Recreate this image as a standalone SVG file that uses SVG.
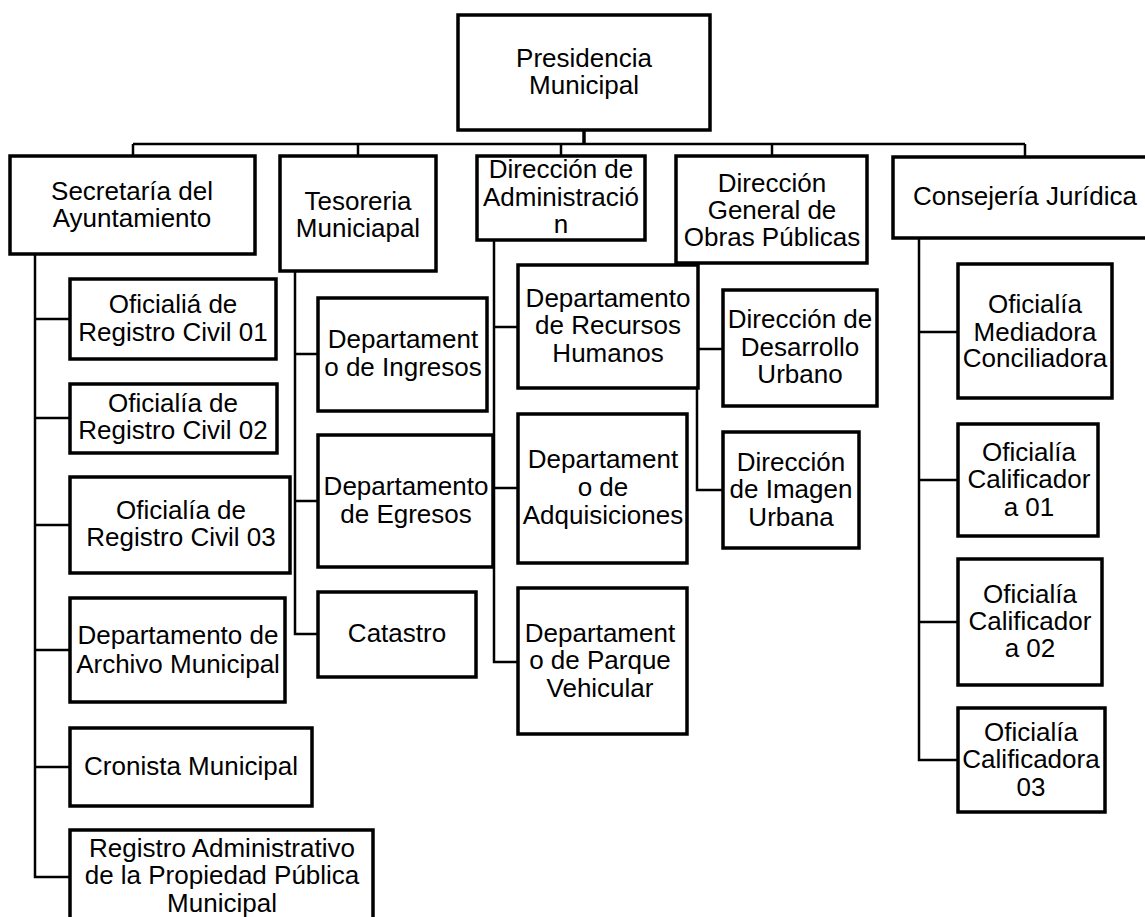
<svg xmlns="http://www.w3.org/2000/svg" width="1145" height="917" viewBox="0 0 1145 917">
  <style>
    .box { fill: #ffffff; stroke: #000000; stroke-width: 3.5; }
    .lbl { font-family: "Liberation Sans", Arial, sans-serif; font-size: 26px; fill: #000000; text-anchor: middle; }
    .wire { fill: none; stroke: #000000; stroke-width: 2.5; }
    .trunk { fill: none; stroke: #000000; stroke-width: 3.5; }
  </style>
  <rect width="1145" height="917" fill="#ffffff"/>

  <!-- connectors -->
  <g id="connectors">
    <line class="trunk" x1="584" y1="130" x2="584" y2="144"/>
    <line class="wire" x1="133" y1="144" x2="1025" y2="144"/>
    <line class="wire" x1="133" y1="144" x2="133" y2="156"/>
    <line class="wire" x1="358" y1="144" x2="358" y2="156"/>
    <line class="wire" x1="561" y1="144" x2="561" y2="156"/>
    <line class="wire" x1="772" y1="144" x2="772" y2="156"/>
    <line class="wire" x1="1025" y1="144" x2="1025" y2="157"/>

    <!-- Secretaría branch -->
    <polyline class="wire" points="35,254 35,877 70,877"/>
    <line class="wire" x1="35" y1="319" x2="70" y2="319"/>
    <line class="wire" x1="35" y1="418" x2="70" y2="418"/>
    <line class="wire" x1="35" y1="525" x2="70" y2="525"/>
    <line class="wire" x1="35" y1="650" x2="70" y2="650"/>
    <line class="wire" x1="35" y1="767" x2="70" y2="767"/>

    <!-- Tesorería branch -->
    <polyline class="wire" points="295,271 295,634 318,634"/>
    <line class="wire" x1="295" y1="354" x2="318" y2="354"/>
    <line class="wire" x1="295" y1="501" x2="318" y2="501"/>

    <!-- Administración branch -->
    <polyline class="wire" points="494,240 494,662 518,662"/>
    <line class="wire" x1="494" y1="327" x2="518" y2="327"/>
    <line class="wire" x1="494" y1="488" x2="518" y2="488"/>

    <!-- Obras Públicas branch -->
    <polyline class="wire" points="697,263 697,490 723,490"/>
    <line class="wire" x1="697" y1="349" x2="723" y2="349"/>

    <!-- Consejería branch -->
    <polyline class="wire" points="919,238 919,760 958,760"/>
    <line class="wire" x1="919" y1="332" x2="958" y2="332"/>
    <line class="wire" x1="919" y1="480" x2="958" y2="480"/>
    <line class="wire" x1="919" y1="622" x2="958" y2="622"/>
  </g>

  <!-- top level -->
  <g id="presidencia">
    <rect class="box" x="458" y="15" width="252" height="115"/>
    <text class="lbl" x="584" y="67">Presidencia</text>
    <text class="lbl" x="584" y="94">Municipal</text>
  </g>

  <!-- second level -->
  <g id="secretaria">
    <rect class="box" x="10" y="156" width="245" height="98"/>
    <text class="lbl" x="132" y="200">Secretaría del</text>
    <text class="lbl" x="132" y="227">Ayuntamiento</text>
  </g>
  <g id="tesoreria">
    <rect class="box" x="280" y="156" width="156" height="115"/>
    <text class="lbl" x="358" y="210">Tesoreria</text>
    <text class="lbl" x="358" y="237">Municiapal</text>
  </g>
  <g id="administracion">
    <rect class="box" x="477" y="156" width="168" height="84"/>
    <text class="lbl" x="561" y="178">Dirección de</text>
    <text class="lbl" x="561" y="206">Administració</text>
    <text class="lbl" x="561" y="233">n</text>
  </g>
  <g id="obras">
    <rect class="box" x="676" y="156" width="191" height="107"/>
    <text class="lbl" x="772" y="192">Dirección</text>
    <text class="lbl" x="772" y="219">General de</text>
    <text class="lbl" x="772" y="246">Obras Públicas</text>
  </g>
  <g id="consejeria">
    <rect class="box" x="893" y="157" width="270" height="81"/>
    <text class="lbl" x="1025" y="205">Consejería Jurídica</text>
  </g>

  <!-- Secretaría units -->
  <g id="registro-civil-01">
    <rect class="box" x="70" y="279" width="206" height="80"/>
    <text class="lbl" x="173" y="313">Oficialiá de</text>
    <text class="lbl" x="173" y="341">Registro Civil 01</text>
  </g>
  <g id="registro-civil-02">
    <rect class="box" x="70" y="384" width="207" height="69"/>
    <text class="lbl" x="173" y="412">Oficialía de</text>
    <text class="lbl" x="173" y="439">Registro Civil 02</text>
  </g>
  <g id="registro-civil-03">
    <rect class="box" x="70" y="477" width="220" height="96"/>
    <text class="lbl" x="181" y="519">Oficialía de</text>
    <text class="lbl" x="181" y="546">Registro Civil 03</text>
  </g>
  <g id="archivo">
    <rect class="box" x="70" y="598" width="215" height="104"/>
    <text class="lbl" x="178" y="644">Departamento de</text>
    <text class="lbl" x="178" y="673">Archivo Municipal</text>
  </g>
  <g id="cronista">
    <rect class="box" x="70" y="728" width="242" height="78"/>
    <text class="lbl" x="191" y="775">Cronista Municipal</text>
  </g>
  <g id="registro-propiedad">
    <rect class="box" x="70" y="830" width="303" height="100"/>
    <text class="lbl" x="222" y="857">Registro Administrativo</text>
    <text class="lbl" x="222" y="884">de la Propiedad Pública</text>
    <text class="lbl" x="222" y="912">Municipal</text>
  </g>

  <!-- Tesorería units -->
  <g id="ingresos">
    <rect class="box" x="318" y="298" width="169" height="113"/>
    <text class="lbl" x="403" y="348">Departament</text>
    <text class="lbl" x="403" y="376">o de Ingresos</text>
  </g>
  <g id="egresos">
    <rect class="box" x="318" y="435" width="175" height="132"/>
    <text class="lbl" x="406" y="495">Departamento</text>
    <text class="lbl" x="406" y="523">de Egresos</text>
  </g>
  <g id="catastro">
    <rect class="box" x="318" y="592" width="158" height="85"/>
    <text class="lbl" x="397" y="642">Catastro</text>
  </g>

  <!-- Administración units -->
  <g id="recursos-humanos">
    <rect class="box" x="518" y="265" width="180" height="123"/>
    <text class="lbl" x="608" y="307">Departamento</text>
    <text class="lbl" x="608" y="334">de Recursos</text>
    <text class="lbl" x="608" y="362">Humanos</text>
  </g>
  <g id="adquisiciones">
    <rect class="box" x="518" y="414" width="169" height="149"/>
    <text class="lbl" x="603" y="468">Departament</text>
    <text class="lbl" x="603" y="496">o de</text>
    <text class="lbl" x="603" y="524">Adquisiciones</text>
  </g>
  <g id="parque-vehicular">
    <rect class="box" x="518" y="588" width="169" height="146"/>
    <text class="lbl" x="600" y="642">Departament</text>
    <text class="lbl" x="600" y="669">o de Parque</text>
    <text class="lbl" x="600" y="697">Vehicular</text>
  </g>

  <!-- Obras Públicas units -->
  <g id="desarrollo-urbano">
    <rect class="box" x="723" y="290" width="154" height="116"/>
    <text class="lbl" x="800" y="328">Dirección de</text>
    <text class="lbl" x="800" y="356">Desarrollo</text>
    <text class="lbl" x="800" y="383">Urbano</text>
  </g>
  <g id="imagen-urbana">
    <rect class="box" x="723" y="432" width="136" height="116"/>
    <text class="lbl" x="791" y="471">Dirección</text>
    <text class="lbl" x="791" y="498">de Imagen</text>
    <text class="lbl" x="791" y="526">Urbana</text>
  </g>

  <!-- Consejería units -->
  <g id="mediadora">
    <rect class="box" x="958" y="264" width="154" height="134"/>
    <text class="lbl" x="1035" y="313">Oficialía</text>
    <text class="lbl" x="1035" y="341">Mediadora</text>
    <text class="lbl" x="1035" y="367">Conciliadora</text>
  </g>
  <g id="calificadora-01">
    <rect class="box" x="958" y="424" width="140" height="112"/>
    <text class="lbl" x="1029" y="461">Oficialía</text>
    <text class="lbl" x="1029" y="488">Calificador</text>
    <text class="lbl" x="1029" y="516">a 01</text>
  </g>
  <g id="calificadora-02">
    <rect class="box" x="958" y="559" width="144" height="126"/>
    <text class="lbl" x="1030" y="603">Oficialía</text>
    <text class="lbl" x="1030" y="630">Calificador</text>
    <text class="lbl" x="1030" y="657">a 02</text>
  </g>
  <g id="calificadora-03">
    <rect class="box" x="958" y="708" width="147" height="104"/>
    <text class="lbl" x="1031" y="741">Oficialía</text>
    <text class="lbl" x="1031" y="768">Calificadora</text>
    <text class="lbl" x="1031" y="796">03</text>
  </g>
</svg>
